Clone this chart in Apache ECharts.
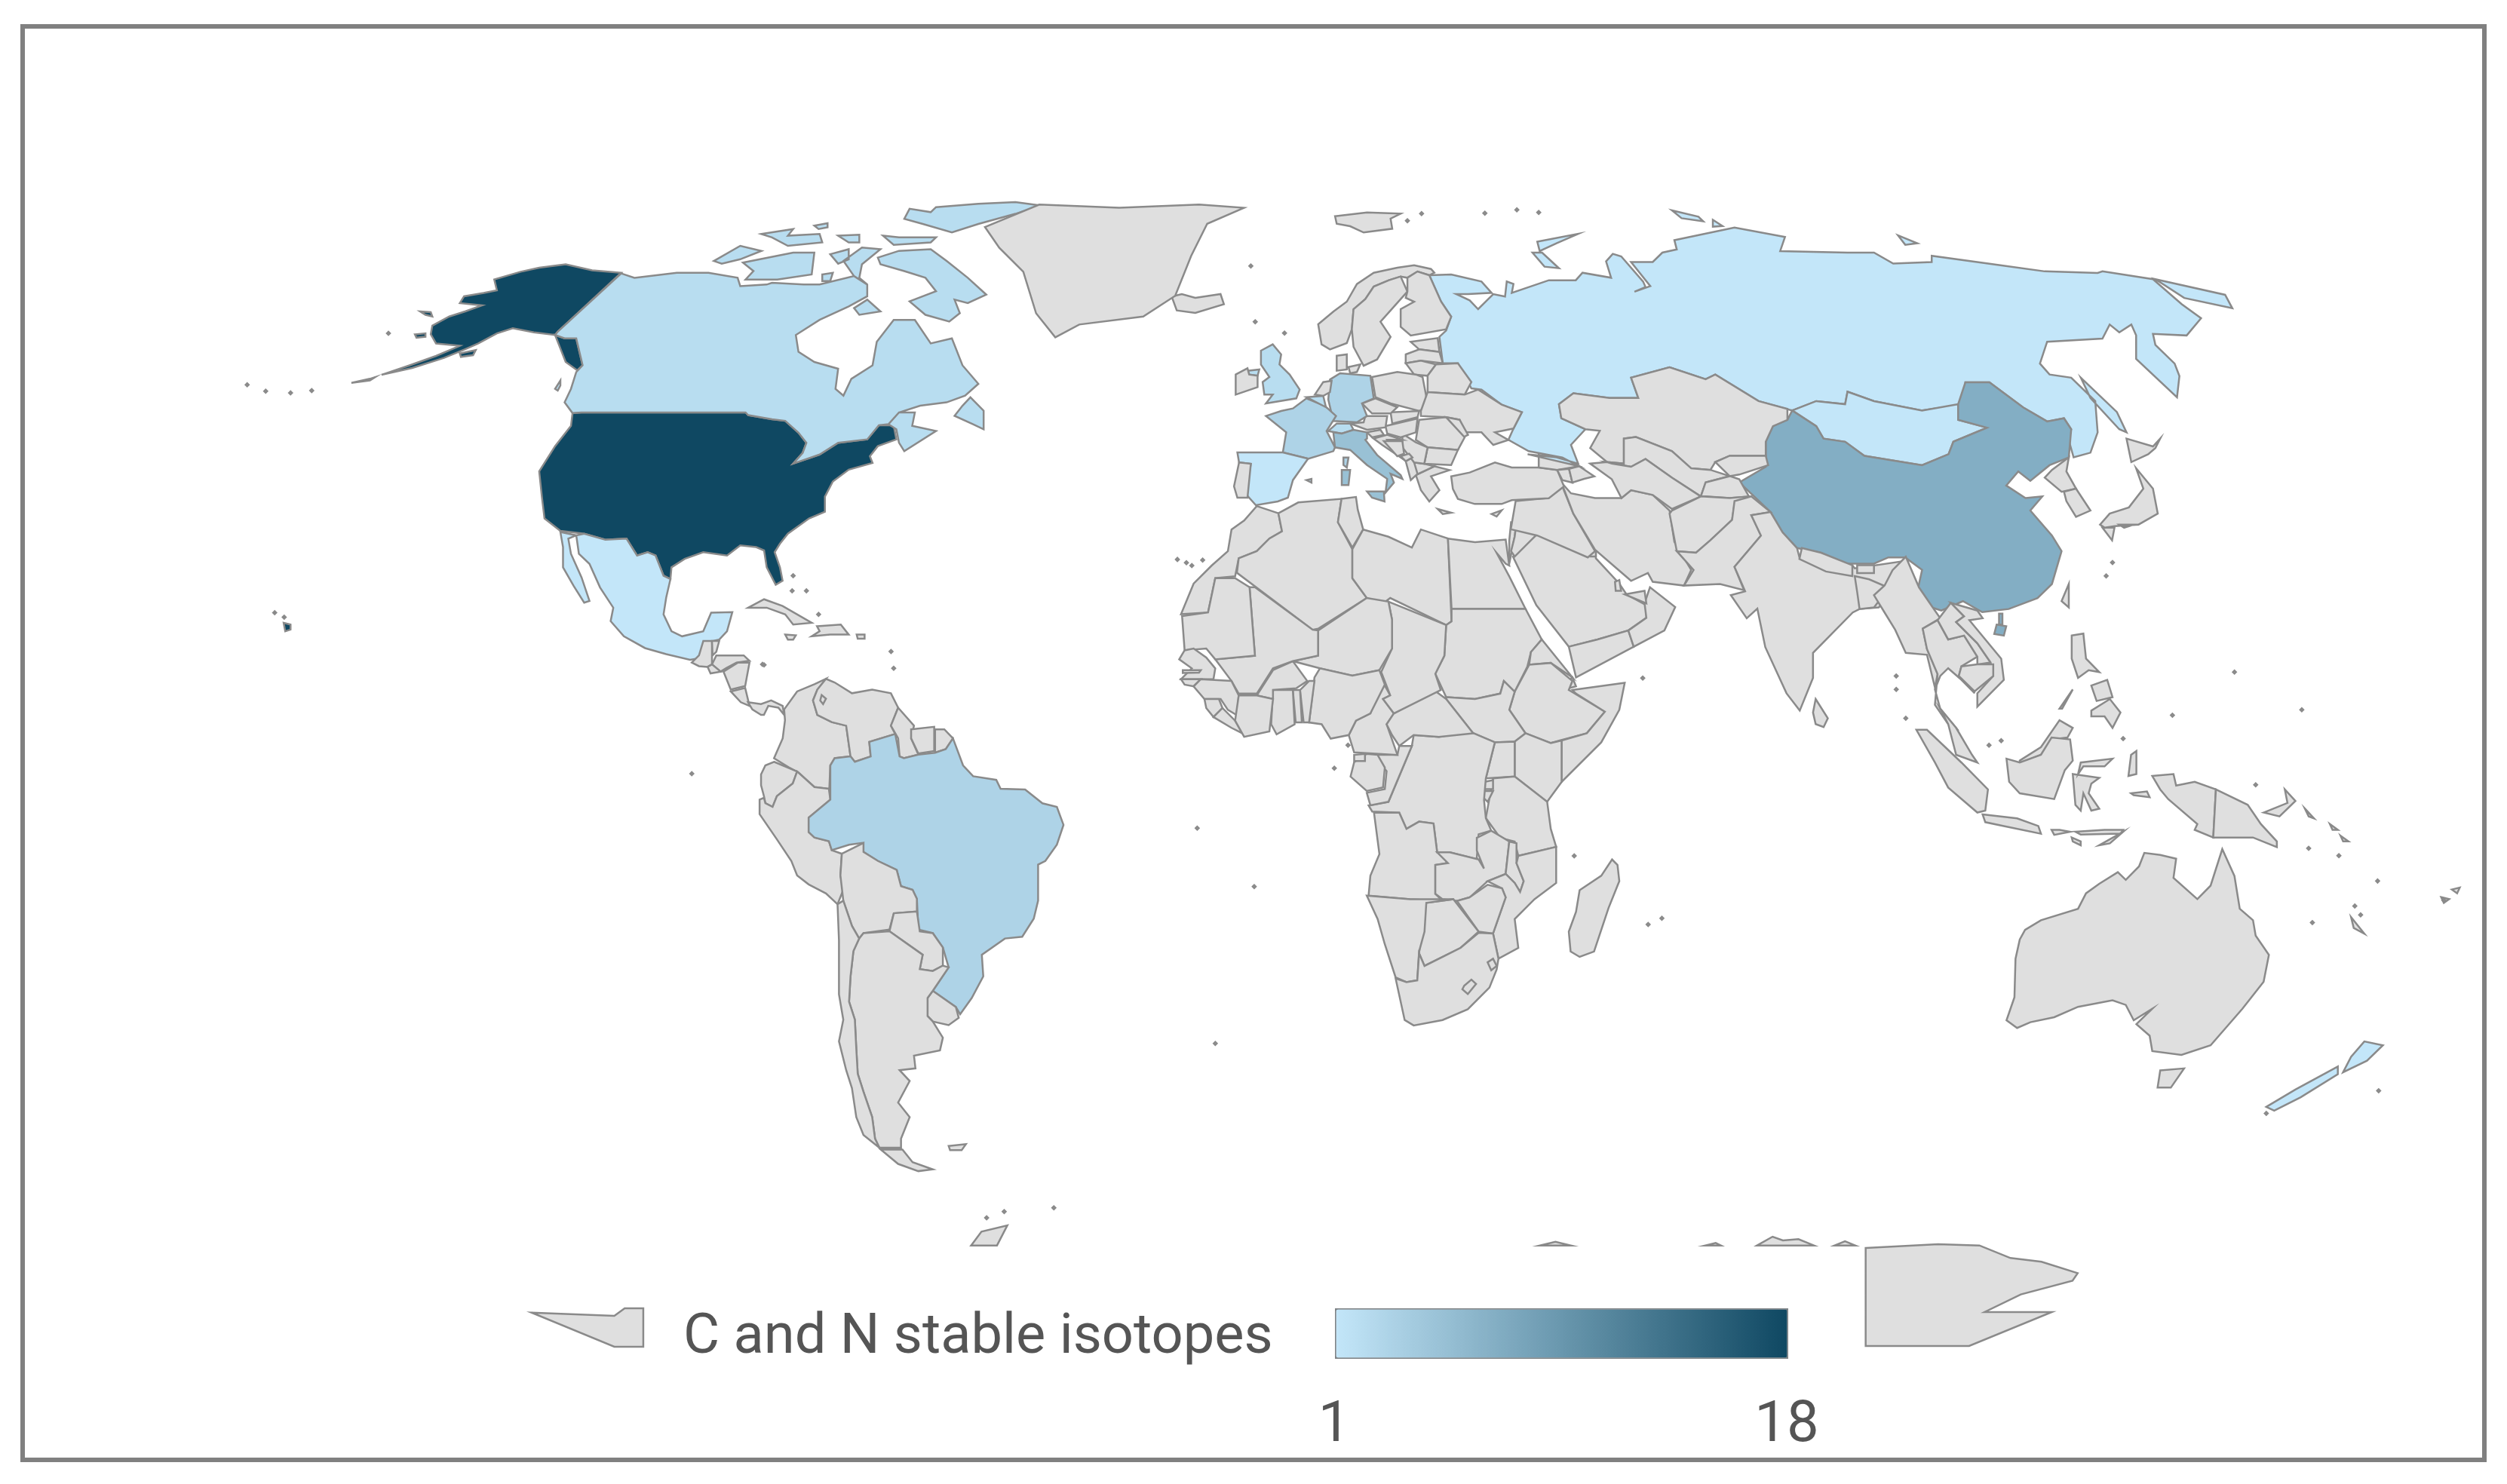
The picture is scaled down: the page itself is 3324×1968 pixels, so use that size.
<!DOCTYPE html>
<html>
<head>
<meta charset="utf-8" />
<title>C and N stable isotopes</title>
<script src="https://cdn.jsdelivr.net/npm/echarts@6/dist/echarts.min.js"></script>
<style>
  html, body { margin: 0; padding: 0; background: #fff; }
  #main { width: 3324px; height: 1968px; }
</style>
</head>
<body>
<div id="main"></div>
<script>
// studies per country
var countries = ['United States', 'China', 'Italy', 'France', 'Germany', 'Brazil', 'Canada', 'United Kingdom',
  'Belgium', 'Switzerland', 'Russia', 'Mongolia', 'Mexico', 'Spain', 'New Zealand'];
var values = [18, 7, 5, 3, 3, 3, 2, 2, 2, 2, 1, 1, 1, 1, 1];
var scaleLabels = ['1', '18'];
var legendTitle = 'C and N stable isotopes';

// outlines were traced on enlarged parts of the picture, each part has its own offset and scale
var frames = {
  A: [280, 230, 1.4255, 2.24],
  E: [1500, 240, 2.24, 3],
  R: [2000, 250, 1.568, 2.412],
  F: [1530, 640, 2.0907, 2.0907],
  S: [900, 850, 2.6133, 2.0907],
  O: [2200, 700, 1.4227, 1.96],
  L: [650, 1600, 0.7293, 3],
  V: [0, 0, 0.4717, 0.4717]
};

var shapes = [
  ['United States', '@A 775,295 720,288 670,270 620,280 585,292 535,315 540,347 515,355 478,365 470,385 512,392 480,410 450,425 418,452 415,478 425,505 470,512 425,542 375,570 328,595 322,598 380,578 440,548 480,522 505,505 540,475 570,460 610,472 650,480 655,470;650,480 668,490 690,490 702,570 692,585 670,560 660,520;265,622 300,610 310,605 300,615;395,410 415,412 418,425 405,420;385,478 405,475 405,485 388,488;470,535 500,525 495,540 472,545;137,1335 150,1340 150,1355 140,1360'],
  ['United States', '@A 683,712 700,710 1010,710 1015,718 1060,730 1085,735 1110,770 1125,800 1118,830 1100,862 1150,835 1185,800 1240,790 1262,748 1290,748 1295,790 1260,810 1245,840 1250,860 1205,880 1175,915 1165,945 1160,960 1160,1005 1130,1025 1090,1070 1075,1100 1065,1125 1075,1170 1080,1210 1067,1222 1050,1170 1045,1120 1030,1110 1000,1105 975,1135 930,1125 895,1145 870,1170 868,1205 855,1195 840,1135 825,1125 805,1135 785,1085 745,1088 705,1070 660,1062 630,1025 625,960 620,885 650,810 680,750'],
  ['Canada', '@A 775,297 800,310 880,295 940,295 995,310 1000,335 1050,330 1060,325 1120,330 1150,330 1215,305 1240,330 1240,365 1205,395 1150,435 1105,480 1110,530 1140,560 1185,580 1180,640 1195,660 1210,610 1250,570 1258,500 1290,435 1330,435 1360,505 1400,490 1420,570 1450,625 1425,660 1390,680 1340,690 1300,710 1280,745 1262,748 1240,790 1185,800 1150,835 1100,862 1118,830 1125,800 1110,770 1085,735 1060,730 1015,718 1010,710 700,710 683,712 668,680 680,640 690,590 702,570 690,490 668,490 650,480 655,470;660,615 650,640 655,645 660,630;1280,745 1300,710 1330,710 1325,750 1370,765 1310,825 1300,800 1295,760;1435,665 1460,705 1460,760 1440,745 1405,720 1420,690;1260,250 1300,230 1360,225 1390,260 1430,310 1465,360 1430,385 1405,375 1415,415 1395,440 1350,420 1320,380 1370,350 1350,310 1310,290 1265,270;1005,265 1100,235 1140,235 1135,300 1070,315 1010,315 1025,290;950,260 1000,215 1040,230 1000,255 965,268;1215,400 1240,375 1265,410 1225,420;1170,240 1205,225 1205,255 1185,268;1195,260 1230,220 1265,225 1230,270 1225,310 1240,330 1215,305;1370,100 1450,90 1520,85 1568,95 1520,120 1450,150 1400,175 1345,150 1310,135 1320,105 1360,115;1270,185 1300,190 1370,190 1360,205 1290,212;1040,180 1100,165 1090,185 1150,180 1155,205 1090,215 1060,190;1185,185 1225,182 1225,205 1205,205;1140,155 1165,148 1165,160 1148,165;1155,300 1175,295 1170,320 1155,320'],
  ['Mexico', '@A 660,1065 690,1075 675,1085 680,1130 700,1200 715,1270 705,1275 685,1225 665,1170 665,1110;690,1075 705,1070 745,1088 785,1085 805,1135 825,1125 840,1135 855,1195 868,1205 860,1260 855,1310 870,1360 890,1375 930,1360 945,1305 985,1303 975,1360 960,1385 945,1390 925,1440 905,1445 860,1428 820,1410 780,1375 755,1330 760,1290 735,1230 715,1160 695,1130'],
  ['Cuba', '@A 1015,1290 1045,1265 1080,1285 1135,1335 1100,1340 1085,1310 1050,1290'],
  ['Hispaniola', '@A 1145,1345 1190,1340 1205,1370 1170,1370 1135,1375 1150,1360'],
  ['Jamaica', '@A 1085,1370 1105,1372 1100,1385 1090,1385'],
  ['Puerto Rico', '@A 1220,1370 1235,1370 1235,1382 1222,1382'],
  ['Guatemala', '@S 45,60 70,40 85,0 115,0 115,40 115,65 100,72 70,70'],
  ['Belize', '@S 115,0 140,0 130,30 117,40'],
  ['Honduras', '@S 115,65 130,40 225,40 245,55 200,60 165,75 145,85'],
  ['El Salvador', '@S 100,72 115,65 145,85 110,90'],
  ['Nicaragua', '@S 155,85 205,60 245,60 230,125 180,135'],
  ['Costa Rica', '@S 180,140 230,130 245,180 215,170'],
  ['Panama', '@S 240,170 285,175 320,165 360,180 365,205 345,185 310,180 295,205 285,205 255,190'],

  ['Colombia', '@S 365,190 410,140 470,120 510,105 480,135 465,165 480,205 530,225 580,235 595,320 540,325 525,345 520,440 520,410 470,405 415,365 380,350 330,325 360,270 368,220'],
  ['Venezuela', '@S 510,105 540,115 600,145 670,135 735,145 760,185 735,235 750,258 660,280 665,320 610,335 595,320 580,235 530,225 480,205 465,165 480,135|495,150 510,160 500,175 490,165'],
  ['Guyana', '@S 760,185 815,235 805,270 830,315 780,325 765,320 760,270 735,235'],
  ['Suriname', '@S 805,245 885,238 885,305 830,312 805,270'],
  ['French Guiana', '@S 888,245 920,245 950,270 925,300 888,310'],
  ['Ecuador', '@S 330,335 410,362 395,395 340,430 325,460 300,450 295,430 285,400 285,370 300,345'],
  ['Peru', '@S 280,440 295,435 300,450 325,460 340,430 395,395 410,362 470,405 520,410 525,440 450,490 450,530 470,545 520,555 530,580 565,590 560,650 570,690 550,730 510,700 450,675 410,650 390,610 340,550 280,480'],
  ['Brazil', '@S 750,258 765,320 780,325 830,315 888,310 925,300 950,270 985,345 1020,375 1100,385 1115,410 1200,412 1260,450 1310,460 1333,510 1310,565 1270,610 1245,620 1245,720 1230,770 1190,820 1130,825 1050,870 1055,930 1015,990 975,1035 960,1015 880,970 935,905 915,850 880,810 830,800 825,715 810,690 770,680 755,635 690,610 640,585 635,560 590,565 530,580 520,555 470,545 450,530 450,490 525,440 525,345 540,325 595,320 610,335 665,320 660,280'],
  ['Bolivia', '@S 565,590 640,560 640,585 690,610 755,635 770,680 810,690 825,715 825,750 745,755 730,800 640,810 625,825 600,790 570,720 560,650'],
  ['Paraguay', '@S 745,755 825,750 835,805 880,810 915,850 915,900 880,915 835,910 845,870 730,805'],
  ['Uruguay', '@S 880,970 960,1015 970,1045 935,1065 880,1055 862,1040 862,990'],
  ['Argentina', '@S 625,825 640,810 730,805 845,870 835,910 880,915 915,900 935,905 880,970 862,990 862,1040 880,1055 915,1100 905,1135 815,1150 820,1185 765,1190 800,1220 760,1280 800,1320 770,1380 770,1405 695,1405 680,1380 670,1320 640,1250 620,1200 615,1130 610,1050 590,1000 595,930 605,860;700,1410 775,1410 810,1445 880,1465 830,1470 760,1450'],
  ['Chile', '@S 550,730 570,720 600,790 625,825 605,860 595,930 590,1000 610,1050 615,1130 620,1200 640,1250 670,1320 680,1380 695,1405 640,1370 615,1320 600,1240 580,1190 555,1110 570,1050 555,980 555,830'],
  ['Falkland Islands', '@S 935,1400 995,1395 980,1412 940,1412'],

  ['Morocco', '@F 285,65 345,85 355,135 320,155 285,190 235,210 225,260 170,265 150,360 75,365 110,280 160,230 205,190 215,130 250,105'],
  ['Algeria', '@F 345,85 400,55 520,45 510,110 550,185 550,265 590,320 455,405 440,408 230,250 235,210 285,190 320,155 355,135'],
  ['Tunisia', '@F 520,45 560,40 565,75 580,130 550,180 510,110'],
  ['Libya', '@F 580,130 650,150 715,180 740,130 815,155 825,385 810,395 655,320 635,335 590,320 550,265 550,185'],
  ['Egypt', '@F 815,155 890,165 975,158 985,230 975,225 950,195 985,260 1030,350 825,350'],
  ['Sudan', '@F 825,350 1030,350 1075,435 1045,470 1035,510 1000,580 970,550 960,585 890,600 810,595 780,530 805,480 810,395 825,385'],
  ['Eritrea', '@F 1045,470 1075,435 1160,540 1100,500 1040,505'],
  ['Djibouti', '@F 1135,560 1160,540 1170,565 1150,570'],
  ['Ethiopia', '@F 1040,505 1100,500 1160,550 1150,575 1250,635 1200,695 1125,715 1100,722 1030,695 985,630 1000,580'],
  ['Somalia', '@F 1160,575 1305,555 1290,630 1240,720 1130,830 1130,715 1200,695 1250,635 1170,585'],
  ['South Sudan', '@F 810,595 890,600 960,585 970,550 1000,580 985,630 1030,695 1000,718 945,720 885,695 810,600'],
  ['Kenya', '@F 1000,718 1030,695 1100,722 1130,715 1130,830 1090,885 1000,815'],
  ['Uganda', '@F 945,720 1000,718 1000,815 920,820'],
  ['Tanzania', '@F 940,820 1000,815 1090,885 1100,960 1115,1010 1010,1035 1000,995 960,985 920,930'],
  ['Rwanda', '@F 915,830 940,825 940,850 915,850'],
  ['Burundi', '@F 915,855 940,855 925,885 915,875'],
  ['DR Congo', '@F 720,700 790,705 875,690 945,720 920,820 915,880 920,930 935,965 900,975 895,1040 915,1070 900,1045 820,1025 785,1025 775,945 735,940 700,960 680,915 605,912 595,895 650,885 715,730'],
  ['Congo', '@F 680,730 715,730 650,885 600,895 590,860 640,850 645,800 620,770 620,755 675,755'],
  ['Gabon', '@F 555,775 590,752 620,755 640,790 635,845 590,855 545,815'],
  ['Equatorial Guinea', '@F 555,755 585,752 585,772 555,772'],
  ['Cameroon', '@F 630,545 655,590 635,600 665,640 645,670 675,755 555,748 540,700 560,660 600,640'],
  ['Central African Republic', '@F 665,640 780,578 810,600 885,695 790,705 720,700 680,730 660,700 645,670'],
  ['Chad', '@F 650,330 810,395 805,480 780,530 795,575 665,640 635,600 655,590 630,525 660,460 660,380'],
  ['Niger', '@F 455,410 590,320 650,330 660,380 660,460 625,520 550,535 460,515 385,495 455,480'],
  ['Nigeria', '@F 445,540 460,515 550,535 625,520 640,560 600,640 560,660 540,700 490,710 465,670 430,665'],
  ['Benin', '@F 405,575 430,550 445,550 430,665 415,665'],
  ['Togo', '@F 385,575 405,575 410,665 393,665'],
  ['Ghana', '@F 330,575 385,575 390,670 340,698 325,670'],
  ['Burkina Faso', '@F 285,590 330,520 385,495 425,550 395,570 330,575 330,600'],
  ['Mali', '@F 265,290 280,290 440,408 455,410 455,480 385,495 330,515 285,585 235,585 215,550 170,490 280,480'],
  ['Mauritania', '@F 170,265 225,265 265,290 280,480 170,490 145,460 85,465 78,370 150,360'],
  ['Senegal', '@F 70,490 85,465 110,460 145,485 170,515 165,545 75,545 105,515'],
  ['Gambia', '@F 80,520 130,520 125,527 80,528'],
  ['Guinea-Bissau', '@F 75,545 130,545 110,565 85,560'],
  ['Guinea', '@F 110,565 130,545 215,550 235,590 230,645 205,630 185,600 140,600'],
  ['Sierra Leone', '@F 140,600 180,600 190,625 165,650 145,625'],
  ['Liberia', '@F 165,650 190,625 225,660 245,695 215,680'],
  ['Ivory Coast', '@F 235,590 285,590 330,600 320,690 250,705 225,660'],
  ['Angola', '@F 610,915 680,915 700,960 735,940 775,945 785,1025 815,1025 810,1055 780,1060 780,1140 800,1160 710,1155 595,1145 600,1090 625,1030'],
  ['Zambia', '@F 785,1025 820,1025 900,1045 915,1070 895,1020 895,985 935,965 985,995 975,1085 925,1105 875,1150 840,1160 800,1155 780,1140 780,1060 815,1055'],
  ['Malawi', '@F 985,995 1005,1000 1005,1055 1025,1105 1015,1135 1000,1110 975,1085'],
  ['Mozambique', '@F 1010,1035 1115,1010 1115,1110 1055,1155 1000,1210 1010,1290 955,1320 940,1250 975,1150 965,1125 925,1105 975,1085 1000,1110 1015,1135 1025,1105 1005,1055'],
  ['Zimbabwe', '@F 875,1150 925,1115 965,1125 975,1150 940,1250 900,1245 840,1160'],
  ['Botswana', '@F 755,1165 830,1155 900,1245 850,1290 810,1310 750,1340 735,1305 740,1245'],
  ['Namibia', '@F 590,1145 710,1155 830,1155 755,1165 750,1245 735,1300 730,1380 700,1385 670,1372 640,1280 620,1210'],
  ['South Africa', '@F 670,1375 700,1385 730,1380 735,1305 750,1340 810,1310 850,1290 900,1248 940,1250 955,1320 950,1350 930,1400 870,1460 800,1490 720,1505 695,1490'],
  ['Lesotho', '@F 860,1395 880,1378 893,1390 870,1418 855,1405'],
  ['Eswatini', '@F 925,1330 940,1320 950,1340 935,1352'],
  ['Madagascar', '@F 1180,1130 1240,1090 1270,1045 1285,1060 1290,1105 1260,1180 1220,1300 1180,1315 1155,1300 1150,1245 1170,1190'],

  ['Saudi Arabia', '@F 995,205 1060,145 1090,150 1200,205 1225,190 1225,210 1290,280 1310,310 1365,340 1365,375 1315,410 1230,435 1150,455 1060,340'],
  ['Yemen', '@F 1150,455 1230,435 1315,410 1330,455 1170,540'],
  ['Oman', '@F 1315,410 1365,375 1360,335 1375,290 1445,345 1415,410 1330,455'],
  ['United Arab Emirates', '@F 1305,310 1360,300 1365,335'],
  ['Qatar', '@F 1278,275 1290,270 1295,300 1280,300'],
  ['Kuwait', '@F 1210,190 1225,185 1225,205 1210,205'],
  ['Syria', '@F 1005,50 1130,45 1165,50 1165,90 1060,125 1005,110'],
  ['Israel', '@F 990,110 1005,110 1000,150 985,225 985,160'],
  ['Jordan', '@F 1000,150 1005,110 1060,125 1060,145 1000,205 990,190'],
  ['Iraq', '@R 15,1000 80,990 110,945 135,1040 180,1160 165,1180 60,1110 5,1090'],
  ['Iran', '@R 110,940 130,975 180,990 235,990 255,965 300,980 335,1030 345,1130 380,1220 365,1270 300,1258 290,1230 255,1255 225,1215 180,1155 135,1040'],
  ['Turkey', '@E 950,1175 1005,1160 1080,1120 1130,1140 1210,1140 1265,1150 1285,1215 1240,1262 1130,1270 1100,1285 1020,1285 970,1265 955,1225'],
  ['Georgia', '@E 1210,1090 1265,1105 1330,1135 1265,1150 1210,1140'],
  ['Armenia', '@E 1265,1150 1300,1145 1310,1200 1280,1190'],
  ['Azerbaijan', '@E 1300,1145 1330,1135 1375,1175 1345,1185 1310,1200'],
  ['Cyprus', '@E 1070,1325 1100,1310 1085,1335'],

  ['Russia', '@E 885,375 950,372 1040,400 1070,445 1000,450 965,450 1005,475 1030,510 1060,470 1075,450 1110,460 1115,400 1135,410 1130,445 1240,395 1320,395 1340,365 1425,385 1410,320 1430,290 1455,300 1520,400 @R 285,315 262,330 295,312 255,235 300,235 320,205 350,195 345,165 470,125 575,155 565,200 705,205 760,205 800,240 880,235 880,215 1020,245 1115,265 1225,270 1235,265 1340,290 1400,370 1440,415 1410,470 1340,465 1345,500 1385,560 1395,600 1390,668 1305,545 1305,470 1295,435 1270,460 1250,435 1235,480 1120,490 1105,560 1125,595 1170,605 1220,680 1225,780 1210,845 1175,860 1165,805 1170,770 1155,735 1120,745 1070,700 1000,620 950,620 950,690 860,710 760,680 705,650 700,690 640,680 590,710 520,680 430,595 410,610 335,572 255,605 270,670 210,670 135,655 105,690 110,735 160,770 130,820 145,880 100,860 40,850 @E 1330,1135 1280,1100 1180,1075 1120,1030 1135,985 1160,920 1100,890 1040,830 1010,825 970,725 925,725 915,620 935,595 950,540 920,480;@R 1190,605 1265,715 1285,780 1270,770 1210,670;1345,290 1490,340 1505,383 1405,350;60,170 145,145 100,175 65,200;50,205 70,205 105,255 75,250;810,150 850,175 825,180;340,70 395,90 405,105 360,95;425,100 445,120 425,122'],
  ['Mongolia', '@R 590,710 640,680 700,690 705,650 760,680 860,710 935,690 935,740 995,765 925,810 915,850 860,885 740,855 700,810 655,800 640,760'],
  ['China', '@R 590,710 640,760 655,800 700,810 740,855 860,885 915,850 925,810 995,765 935,740 935,690 950,620 1000,620 1070,700 1120,745 1155,735 1170,770 1165,860 1125,885 1085,935 1060,905 1035,950 1075,990 1110,985 1085,1030 1130,1110 1150,1160 1130,1265 1100,1310 1040,1345 985,1355 945,1320 900,1350 880,1340 850,1290 860,1220 825,1180 790,1180 760,1200 700,1200 650,1165 600,1150 570,1100 545,1035 480,940 535,890 535,810 550,760 580,740;1015,1395 1035,1400 1030,1430 1010,1425;1020,1360 1027,1360 1027,1395 1020,1395'],
  ['Taiwan', '@R 1165,1265 1165,1340 1150,1320'],
  ['Kazakhstan', '@R 105,690 135,655 210,670 270,670 255,605 335,572 410,610 430,595 520,680 580,705 580,740 550,760 535,810 535,855 460,855 430,875 420,900 380,895 340,840 265,795 240,800 240,880 205,875 170,830 190,775 160,770 110,735'],
  ['Uzbekistan', '@R 205,875 240,880 240,800 265,795 340,840 380,895 420,900 460,920 410,940 400,985 340,925 285,865 255,890 215,880'],
  ['Turkmenistan', '@R 170,880 205,875 215,880 255,890 285,865 340,925 400,985 340,1025 300,980 255,965 235,990 215,930'],
  ['Kyrgyzstan', '@R 430,875 460,855 535,855 540,885 480,915 460,920'],
  ['Tajikistan', '@R 410,940 460,920 480,930 500,985 460,990 410,985 400,985'],
  ['Afghanistan', '@R 340,1030 400,985 460,990 500,985 470,1010 465,1060 420,1125 390,1165 350,1160 335,1040'],
  ['Pakistan', '@R 350,1160 390,1165 420,1125 465,1060 470,1000 505,985 545,1035 505,1045 525,1110 470,1210 490,1285 440,1265 365,1270 385,1220'],
  ['India', '@R 505,1045 545,1035 570,1100 600,1150 605,1180 715,1205 720,1215 830,1190 835,1235 790,1300 770,1340 730,1345 @O 365,220 290,325 290,390 265,475 240,430 200,310 185,210 165,235 135,175 162,165 @R 470,1210 525,1110'],
  ['Nepal', '@R 610,1150 650,1165 715,1205 715,1240 660,1225 605,1185'],
  ['Bhutan', '@R 725,1205 760,1205 760,1230 725,1230'],
  ['Bangladesh', '@R 720,1240 750,1250 780,1270 770,1320 760,1340 730,1345 725,1290'],
  ['Myanmar', '@O 465,75 490,155 520,215 530,235 497,262 505,315 525,380 520,415 505,330 465,325 445,265 425,220 405,175 425,150 440,110'],
  ['Thailand', '@O 497,262 525,240 545,290 575,280 600,335 570,360 565,385 595,430 570,395 545,365 530,385 520,420 530,470 560,520 545,510 520,460 525,380 505,315'],
  ['Laos', '@O 525,240 550,195 575,230 560,245 600,300 625,350 600,355 600,335 575,280 545,290'],
  ['Vietnam', '@O 550,195 600,215 610,235 585,240 645,340 650,395 600,465 600,430 630,385 625,350 600,300 560,245 575,230'],
  ['Cambodia', '@O 570,360 600,355 630,355 630,385 595,425 565,385'],
  ['Malaysia', '@O 530,470 560,520 590,590 600,610 560,590 545,510;680,605 720,570 755,500 780,520 770,545 740,550 720,590 680,612'],
  ['Indonesia', '@O 655,600 680,610 720,590 740,545 775,550 780,605 765,630 745,705 680,690 660,660;485,525 505,525 570,610 620,680 615,735 600,740 545,675 520,610;610,745 675,755 715,775 720,795 650,775 615,765;740,785 755,785 775,790 745,798;785,790 840,785 875,785 870,795 795,797;830,825 875,790 850,820;778,805 795,815 795,825 780,815;780,640 830,650 815,665 810,690 830,730 815,735 800,690 795,735 785,720;790,640 795,610 855,600 840,620 800,620;890,590 900,580 900,640 885,645;890,690 920,685 925,700 895,695;930,645 970,640 975,670 1010,660 1050,680 1045,805 1010,785 1015,770 960,705 945,680'],
  ['Papua New Guinea', '@O 1050,680 1110,720 1135,770 1165,815 1165,830 1120,805 1100,805 1045,805;1140,740 1185,715 1180,680 1200,710 1170,750'],
  ['Solomon Islands', '@O 1218,730 1235,755 1225,750;1265,770 1280,785 1270,785;1285,800 1300,815 1290,815'],
  ['Philippines', '@O 778,280 800,275 805,340 830,375 810,370 790,390 778,340;815,475 850,445 870,480 855,520 840,490 815,490;755,470 780,420 760,470;815,410 845,395 855,440 825,450'],
  ['Sri Lanka', '@O 295,445 318,495 310,518 295,510 290,480'],
  ['New Zealand', '@O 1145,1505 1200,1460 1280,1400 1280,1420 1210,1480 1160,1515;1290,1415 1305,1375 1330,1335 1365,1345 1335,1385'],
  ['Australia', '@O 690,1045 720,1020 790,990 805,950 830,925 865,895 880,915 905,880 915,845 945,850 975,860 970,910 1015,965 1040,930 1062,835 1085,905 1095,990 1120,1020 1125,1060 1150,1110 1140,1180 1100,1250 1040,1345 985,1370 930,1360 925,1320 900,1290 930,1250 895,1280 880,1240 855,1228 790,1245 745,1272 700,1285 675,1300 655,1280 670,1220 672,1120 680,1070;945,1410 990,1405 965,1455 940,1455'],
  ['New Caledonia', '@O 1305,1012 1330,1055 1310,1040'],
  ['Fiji', '@O 1475,960 1490,965 1480,975;1495,940 1510,935 1505,950'],
  ['Japan', '@R 1305,895 1340,960 1350,1040 1310,1075 1260,1080 1240,1085 1230,1075 1250,1040 1290,1020 1320,960;1285,800 1340,825 1355,800 1345,830 1330,850 1295,875;1235,1085 1260,1085 1255,1125 1240,1095;1270,1075 1300,1075 1280,1085'],
  ['North Korea', '@R 1165,860 1130,900 1115,925 1150,970 1180,960 1160,905'],
  ['South Korea', '@R 1155,970 1180,960 1210,1030 1180,1050 1160,1000'],

  ['Norway', '@E 890,350 900,365 885,375 850,360 820,385 800,380 765,395 720,420 695,470 660,510 655,590 640,645 590,670 565,650 555,570 600,520 640,480 670,410 720,365 790,345 840,335'],
  ['Sweden', '@E 800,380 820,440 800,470 740,560 770,620 730,710 690,735 660,660 655,590 660,510 695,470 720,420 765,395'],
  ['Finland', '@E 820,385 850,360 885,375 920,480 950,540 935,590 830,615 800,580 800,510 840,480 815,465 820,440'],
  ['Estonia', '@E 830,640 910,625 915,680 855,670'],
  ['Latvia', '@E 815,690 855,670 915,680 925,725 860,715 815,725'],
  ['Lithuania', '@E 815,725 860,715 905,730 880,775 840,770'],
  ['Belarus', '@E 880,775 905,730 970,725 1010,800 990,850 880,840'],
  ['Poland', '@E 715,780 790,760 845,770 865,780 875,850 880,900 855,915 770,885 725,860'],
  ['Ukraine', '@E 880,840 990,850 1030,830 1100,890 1160,920 1135,985 1080,1000 1120,1030 1075,1050 1040,1000 1000,1000 990,1000 975,950 935,940 860,935 860,915'],
  ['Moldova', '@E 935,940 975,950 1000,1010 985,1020'],
  ['Romania', '@E 855,950 935,940 990,1020 970,1070 880,1060 845,1030'],
  ['Bulgaria', '@E 880,1060 970,1070 950,1130 870,1125'],
  ['Greece', '@E 845,1170 900,1135 945,1150 890,1175 915,1230 885,1275 860,1230;910,1305 950,1320 925,1325'],
  ['Macedonia', '@E 840,1120 870,1125 900,1135 845,1170 835,1130'],
  ['Albania', '@E 815,1115 835,1100 840,1120 850,1165 830,1190'],
  ['Serbia', '@E 805,1005 845,1040 880,1060 870,1125 840,1120 805,1060'],
  ['Slovenia', '@E 700,1000 740,990 750,1010 715,1020'],
  ['Croatia', '@E 720,1025 760,1010 805,1030 760,1030 800,1100 745,1050'],
  ['Bosnia', '@E 750,1035 805,1035 810,1085 790,1095'],
  ['Montenegro', '@E 800,1095 825,1085 835,1100 815,1115'],
  ['Hungary', '@E 755,975 850,945 845,1000 800,1020 760,1005'],
  ['Slovakia', '@E 770,920 855,915 850,940 775,965'],
  ['Czechia', '@E 685,885 725,865 790,900 770,925 715,925'],
  ['Austria', '@E 650,965 690,960 695,935 760,935 755,980 700,990'],
  ['Switzerland', '@E 585,995 610,965 650,965 660,990 625,1005 605,1000'],
  ['Germany', '@E 620,765 710,775 720,865 685,885 700,935 670,960 600,955 585,870 590,790'],
  ['France', '@E 400,935 445,915 480,905 520,865 575,895 608,935 580,995 605,1060 600,1075 525,1105 450,1080 460,1000;630,1100 645,1100 640,1140 630,1130'],
  ['Netherlands', '@E 545,850 570,800 595,795 590,840 570,855'],
  ['Belgium', '@E 520,860 570,855 578,900'],
  ['Denmark', '@E 610,695 640,690 640,750 610,755;645,740 680,730 670,760 650,765'],
  ['Spain', '@E 315,1080 450,1080 525,1105 480,1190 465,1260 435,1275 370,1290 340,1245 355,1125 320,1120;520,1190 535,1185 535,1200'],
  ['Portugal', '@E 320,1120 355,1125 345,1260 315,1260 305,1215'],
  ['Italy', '@E 600,1000 625,1005 660,990 700,1000 700,1025 695,1030 730,1090 800,1170 805,1185 770,1165 780,1200 755,1240 760,1185 700,1130 650,1070 605,1060;700,1235 750,1235 752,1275 715,1260;625,1150 650,1150 645,1210 625,1210'],
  ['United Kingdom', '@E 385,675 420,650 445,690 440,730 470,770 500,830 490,865 400,885 420,850 395,850 390,800 410,780 385,730;345,755 380,750 375,775 350,770'],
  ['Ireland', '@E 310,770 345,745 350,770 375,775 375,820 310,850'],
  ['Iceland', '@E 120,460 150,450 190,465 265,450 275,490 190,525 135,515'],
  ['Svalbard', '@E 605,140 700,125 800,130 770,150 775,190 690,205 650,180 610,170'],
  ['Greenland', '@V 616,142 650,128 700,130 750,128 778,130 755,140 745,160 735,185 715,198 675,203 660,211 648,196 640,170 625,155'],

  ['Antarctica', '@L 40,422 120,435 130,405 148,405 148,558 120,558;1330,165 1400,150 1440,155 1470,205 1500,220 1535,265 1530,295 1480,350 1445,420 1510,420 1430,555 1330,555;1015,155 1030,140 1045,155;1175,155 1185,145 1190,155;1225,155 1240,120 1250,135 1265,130 1280,155;1300,155 1310,138 1320,155;465,155 475,100 500,75 490,155']
];

// very small islands, only a speck in the picture
var specks = [
  ['United States', 'A', '120,1305 138,1318'],
  ['Islands', 'A', '335,475 68,628 103,647 150,652 190,645 1100,1195 1098,1240 1125,1240 1148,1310 1285,1420 1290,1470 1045,1460'],
  ['Islands', 'S', '45,368 290,65'],
  ['Islands', 'F', '65,213 90,222 105,230 135,215 120,958 278,1120 1355,542 1370,1225 1408,1208 170,1555 1165,1035 538,728 500,792'],
  ['Islands', 'E', '455,605 368,560 355,338 820,158 862,130 1050,128 1145,115 1210,125'],
  ['Islands', 'O', '447,385 447,420 465,495 645,553 622,565 875,548 855,90 843,125 1085,375 1212,473 968,487 1125,668 1225,833 1282,852 1312,983 1323,1006 1232,1026 1355,918 1480,968 1357,1463 1145,1522'],
  ['Islands', 'L', '480,45 497,20 545,5']
];

function toReal(frame, p) {
  var f = frames[frame];
  return [f[0] + p[0] / f[2], f[1] + p[1] / f[3]];
}

function parseRing(str, state) {
  var ring = [];
  str.trim().split(/\s+/).forEach(function (tok) {
    if (tok.charAt(0) === '@') { state.frame = tok.slice(1); return; }
    var xy = tok.split(',');
    ring.push(toReal(state.frame, [+xy[0], +xy[1]]));
  });
  ring.push(ring[0].slice());
  return ring;
}

function buildGeoJson() {
  var byName = {}, order = [];
  function add(name, poly) {
    if (!byName[name]) { byName[name] = []; order.push(name); }
    byName[name].push(poly);
  }
  shapes.forEach(function (s) {
    var state = { frame: 'A' };
    s[1].split(';').forEach(function (part) {
      add(s[0], part.split('|').map(function (r) { return parseRing(r, state); }));
    });
  });
  specks.forEach(function (s) {
    s[2].split(' ').forEach(function (tok) {
      var xy = tok.split(',');
      var c = toReal(s[1], [+xy[0], +xy[1]]);
      var r = 2;
      add(s[0], [[[c[0] - r, c[1]], [c[0], c[1] - r], [c[0] + r, c[1]], [c[0], c[1] + r], [c[0] - r, c[1]]]]);
    });
  });
  return {
    type: 'FeatureCollection',
    features: order.map(function (name) {
      return { type: 'Feature', properties: { name: name }, geometry: { type: 'MultiPolygon', coordinates: byName[name] } };
    })
  };
}

var world = buildGeoJson();
echarts.registerMap('world', world);

// the map covers the same box as its outlines, so map units are page pixels
var x0 = 1e9, y0 = 1e9, x1 = -1e9, y1 = -1e9;
world.features.forEach(function (f) {
  f.geometry.coordinates.forEach(function (poly) {
    poly[0].forEach(function (p) {
      x0 = Math.min(x0, p[0]); x1 = Math.max(x1, p[0]);
      y0 = Math.min(y0, p[1]); y1 = Math.max(y1, p[1]);
    });
  });
});

var myChart = echarts.init(document.getElementById('main'));
var option = {
  backgroundColor: '#fff',
  animation: false,
  visualMap: {
    type: 'continuous',
    min: 1,
    max: 18,
    orient: 'horizontal',
    left: 1770,
    top: 1735,
    itemWidth: 64,
    itemHeight: 598,
    padding: 0,
    borderColor: '#7f8487',
    borderWidth: 3,
    text: null,
    calculable: false,
    realtime: false,
    hoverLink: false,
    showLabel: false,
    inRange: { color: ['#c3e6f9', '#0f4862'] }
  },
  series: [{
    type: 'map',
    map: 'world',
    projection: {
      project: function (p) { return p; },
      unproject: function (p) { return p; }
    },
    left: x0,
    top: y0,
    width: x1 - x0,
    height: y1 - y0,
    roam: false,
    silent: true,
    label: { show: false },
    emphasis: { disabled: true },
    itemStyle: { areaColor: '#dfdfdf', borderColor: '#8a8a8a', borderWidth: 2.5 },
    data: countries.map(function (name, i) { return { name: name, value: values[i] }; })
  }],
  graphic: [
    { type: 'rect', silent: true, shape: { x: 30, y: 35, width: 3264, height: 1901 }, style: { fill: 'none', stroke: '#808080', lineWidth: 6 } },
    { type: 'text', silent: true, style: { x: 906, y: 1775, align: 'left', verticalAlign: 'middle', text: legendTitle, font: '74px Roboto', fill: '#555555' } },
    { type: 'text', silent: true, style: { x: 1769, y: 1892, align: 'center', verticalAlign: 'middle', text: scaleLabels[0], font: '76px Roboto', fill: '#555555' } },
    { type: 'text', silent: true, style: { x: 2369, y: 1892, align: 'center', verticalAlign: 'middle', text: scaleLabels[1], font: '76px Roboto', fill: '#555555' } }
  ]
};
myChart.setOption(option);
</script>
</body>
</html>
